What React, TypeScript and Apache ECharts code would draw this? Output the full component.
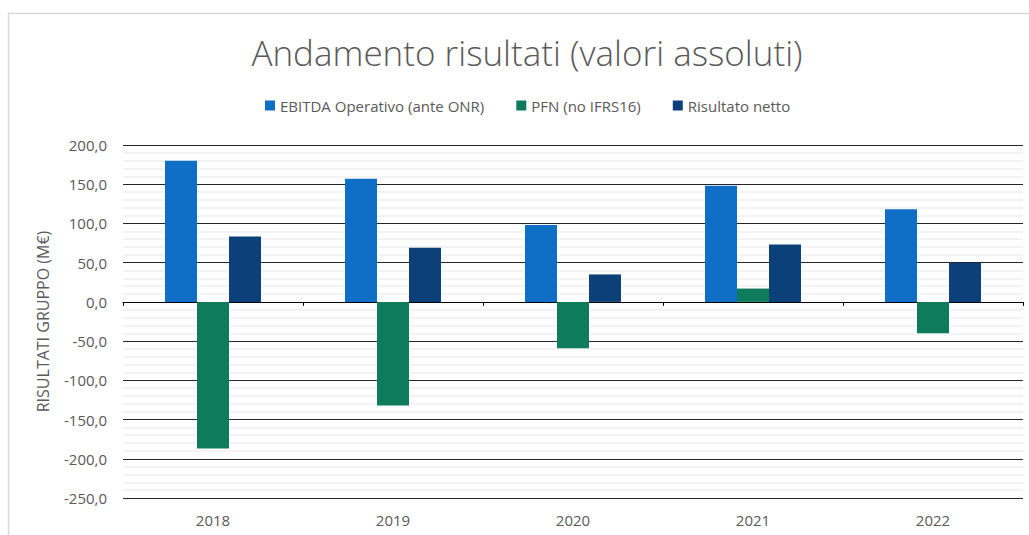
import React, { useEffect, useRef } from "react";
import * as echarts from "echarts";

const categories = ["2018", "2019", "2020", "2021", "2022"];
const ebitda = [180, 157, 98, 148, 118];
const pfn = [-187, -132, -59, 17, -40];
const risultato = [83.5, 69, 35, 73, 50];
const seriesNames = ["EBITDA Operativo (ante ONR)", "PFN (no IFRS16)", "Risultato netto"];
const colors = ["#0F6FC6", "#0E7B5C", "#0B4079"];

const FONT = "'Open Sans', 'Noto Sans', sans-serif";
const TXT = "#595959";

export default function App() {
  const ref = useRef<HTMLDivElement>(null);
  useEffect(() => {
    if (!ref.current) return;
    const chart = echarts.init(ref.current, undefined, { renderer: "svg" });
    const fmt = (v: number) => v.toFixed(1).replace(".", ",");
    chart.setOption({
      animation: false,
      backgroundColor: "#ffffff",
      textStyle: { fontFamily: FONT },
      graphic: [
        {
          type: "rect",
          shape: { x: 8.5, y: 13.5, width: 1040, height: 560 },
          style: { fill: "none", stroke: "#d9d9d9", lineWidth: 1.5 },
          silent: true,
        },
        {
          type: "text",
          x: 527,
          y: 52,
          style: {
            text: "Andamento risultati (valori assoluti)",
            fontFamily: FONT,
            fontSize: 35,
            fontWeight: 300,
            fill: TXT,
            textAlign: "center",
            textVerticalAlign: "middle",
          },
        },
      ],
      legend: {
        data: seriesNames,
        left: 260,
        top: 93,
        itemWidth: 10,
        itemHeight: 10,
        itemGap: 32,
        icon: "rect",
        textStyle: { color: TXT, fontSize: 15, fontFamily: FONT },
      },
      grid: { left: 123, right: 6, top: 145, bottom: 37 },
      xAxis: [
        {
          type: "category",
          data: categories,
          position: "bottom",
          axisLine: { onZero: true, lineStyle: { color: "#000000", width: 1.2 } },
          axisTick: { show: true, length: 4, lineStyle: { color: "#000000" } },
          axisLabel: { show: false },
        },
        {
          type: "category",
          data: categories,
          position: "bottom",
          axisLine: { show: false },
          axisTick: { show: false },
          axisLabel: { show: true, color: TXT, fontSize: 15, fontFamily: FONT, margin: 14 },
        },
      ],
      yAxis: {
        type: "value",
        min: -250,
        max: 200,
        interval: 50,
        name: "RISULTATI GRUPPO (M€)",
        nameLocation: "middle",
        nameGap: 72,
        nameRotate: 90,
        nameTextStyle: { color: TXT, fontSize: 16, fontFamily: FONT },
        axisLine: { show: false },
        axisTick: { show: false },
        axisLabel: { color: TXT, fontSize: 15, fontFamily: FONT, margin: 16, formatter: fmt },
        splitLine: { show: true, lineStyle: { color: "#262626", width: 1.2 } },
        minorTick: { show: false, splitNumber: 5 },
        minorSplitLine: { show: true, lineStyle: { color: "#efefef", width: 1.5 } },
      },
      series: [
        { name: seriesNames[0], type: "bar", data: ebitda, barWidth: 32, barGap: "0%", itemStyle: { color: colors[0] } },
        { name: seriesNames[1], type: "bar", data: pfn, barWidth: 32, barGap: "0%", itemStyle: { color: colors[1] } },
        { name: seriesNames[2], type: "bar", data: risultato, barWidth: 32, barGap: "0%", itemStyle: { color: colors[2] } },
      ],
    });
    return () => chart.dispose();
  }, []);
  return <div ref={ref} style={{ position: "fixed", left: 0, top: 0, width: 1029, height: 535 }} />;
}
